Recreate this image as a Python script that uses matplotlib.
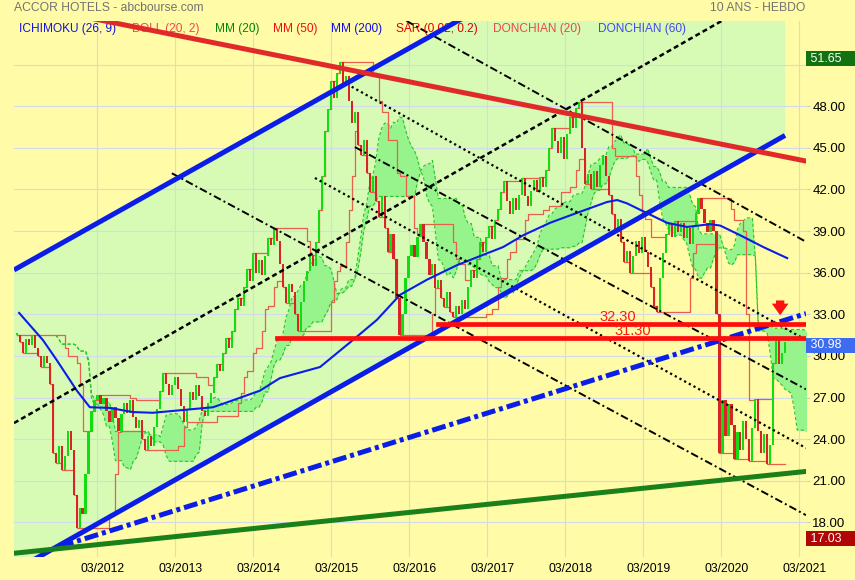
import numpy as np
import pandas as pd
import matplotlib
matplotlib.use("Agg")
import matplotlib.pyplot as plt
import matplotlib.dates as mdates
from matplotlib.patches import Polygon
from matplotlib.transforms import ScaledTranslation, blended_transform_factory

plt.rcParams["font.family"] = ["Liberation Sans", "DejaVu Sans"]

# ---- data (two-week bars, closes) ----
start_date = "2011-02-18"
close = [
    # 2011
    31.5, 31.0, 30.2, 31.2, 30.8, 31.5, 30.6, 30.0, 29.2, 30.0, 29.5, 28.0, 23.0,
    22.3, 23.5, 21.8, 22.8, 24.6, 23.2, 20.0, 17.6, 19.0, 18.6, 21.5, 24.5, 26.0, 26.8,
    # 2012
    27.2, 26.5, 27.0, 26.0, 25.2, 26.3, 25.5, 24.6, 25.8, 26.6, 25.9, 26.8, 25.6,
    24.8, 25.4, 24.0, 23.2, 24.2, 23.5, 24.9, 26.2, 27.5, 28.8, 28.0, 27.2, 27.9,
    # 2013
    28.5, 27.6, 26.4, 25.2, 26.2, 27.4, 26.8, 27.9, 27.1, 26.0, 25.7, 26.6, 27.3,
    28.5, 29.4, 28.9, 30.2, 31.3, 30.6, 31.8, 33.4, 34.2, 33.6, 35.0, 36.3, 35.4,
    # 2014
    37.4, 36.0, 36.9, 35.8, 37.2, 38.5, 38.0, 39.2, 38.3, 36.6, 35.0, 33.8, 35.2,
    34.6, 33.0, 31.8, 33.9, 35.4, 36.1, 37.3, 36.5, 38.2, 40.5, 43.0, 46.2, 47.8,
    # 2015
    49.8, 48.6, 50.4, 51.2, 49.5, 50.2, 48.4, 46.8, 47.6, 45.2, 44.5, 45.6, 43.2,
    41.8, 43.0, 41.2, 40.0, 41.5, 39.2, 37.5, 38.8, 37.0, 34.2, 31.5, 33.0, 35.6,
    # 2016
    37.2, 38.0, 37.1, 38.6, 39.5, 38.2, 37.0, 35.8, 36.6, 34.9, 35.5, 34.2, 33.5,
    34.6, 33.2, 32.8, 33.6, 33.0, 34.0, 33.4, 35.0, 36.2, 35.6, 37.0, 38.2, 37.5,
    # 2017
    38.6, 39.4, 38.4, 39.8, 40.6, 41.8, 42.6, 41.2, 40.2, 41.4, 40.5, 41.6, 42.8,
    41.5, 40.8, 41.9, 42.7, 41.8, 42.9, 42.2, 43.4, 45.0, 46.4, 45.5, 44.6, 45.8,
    # 2018
    44.2, 46.0, 47.2, 46.4, 47.9, 48.3, 45.0, 42.4, 43.1, 42.0, 43.3, 42.2, 43.8,
    44.4, 43.0, 41.6, 40.2, 39.0, 39.9, 38.2, 36.8, 37.6, 36.0, 37.2, 38.3, 37.4,
    # 2019
    38.6, 37.5, 36.4, 35.0, 33.6, 33.2, 35.6, 37.4, 38.8, 39.5, 38.6, 39.7, 38.9,
    39.6, 38.5, 39.2, 38.1, 39.4, 40.3, 41.4, 40.6, 39.6, 38.9, 39.8, 39.0, 33.0,
    # 2020
    23.0, 26.8, 24.2, 26.5, 25.0, 22.6, 24.5, 23.2, 25.3, 24.0, 22.4, 24.8, 26.9,
    24.6, 23.0, 24.4, 22.2, 23.6, 29.5, 31.2, 29.4, 30.2, 30.98,
]

# MM (200) blue line
ma_dates = ["2011-03-01", "2011-06-20", "2011-08-24", "2011-11-26", "2012-01-26",
            "2012-04-28", "2012-08-15", "2012-11-16", "2013-04-07", "2013-08-25",
            "2013-11-26", "2014-04-02", "2014-07-04", "2015-01-08", "2015-06-11",
            "2015-10-01", "2016-01-17", "2016-05-23", "2016-10-11", "2017-01-26",
            "2017-05-14", "2017-08-16", "2017-12-20", "2018-05-10", "2018-09-13",
            "2018-10-30", "2018-12-15", "2019-03-18", "2019-06-20", "2019-09-22",
            "2020-01-08", "2020-02-24", "2020-05-28", "2020-09-13", "2021-01-03"]
ma_vals = [33.1, 31.15, 29.7, 27.5, 26.3, 26.25, 25.95, 25.9, 26.1, 26.3,
           26.8, 27.5, 28.4, 29.2, 31.15, 32.6, 34.4, 35.5, 36.55, 37.2,
           37.85, 38.7, 39.6, 40.4, 41.1, 41.24, 41.0, 40.3, 39.6, 39.3,
           39.5, 39.4, 38.7, 37.85, 37.05]

# hand drawn trend lines: (start date, start price, end date, end price)
channel_up = ("2011-02-05", 36.2, "2020-12-24", 67.4)
channel_lo = ("2011-02-05", 14.5, "2020-12-24", 45.9)
red_trend = ("2011-02-05", 55.46, "2021-04-01", 44.05)
green_trend = ("2011-02-05", 15.77, "2021-04-01", 21.67)
blue_dashdot = ("2011-09-08", 16.26, "2021-04-01", 33.05)
black_dashdot = [("2013-02-13", 43.17, "2021-04-01", 18.52),
                 ("2015-06-20", 45.06, "2021-04-01", 27.59),
                 ("2016-02-17", 54.15, "2021-04-01", 38.23)]
black_dotted = [("2015-06-05", 49.41, "2021-04-01", 31.15),
                ("2014-12-15", 42.83, "2021-04-01", 23.36)]
black_dashed = [("2011-02-05", 25.16, "2020-03-04", 54.17)]
resist_levels = [32.30, 31.30]
resist_start = ["2016-07-15", "2014-06-19"]
resist_label_pos = ["2018-11-03", "2019-01-11"]

year_ticks = [f"{y}-03-01" for y in range(2012, 2022)]
year_labels = [f"03/{y}" for y in range(2012, 2022)]
price_ticks = [18, 21, 24, 27, 30, 33, 36, 39, 42, 45, 48, 51]

# ---- colours ----
BG = "#fffba6"
CHAN = "#d7fab5"
CLOUD = "#97f48d"
CLOUD_EDGE = "#26c626"
UPC = "#12dc12"
DNC = "#d82424"
DON = "#e8604c"
BLUE = "#0a1ee8"

fig = plt.figure(figsize=(8.55, 5.8), dpi=100, facecolor=BG)
ax = fig.add_axes([14 / 855, 23 / 580, 792 / 855, 536 / 580])
ax.set_facecolor(BG)
for s in ax.spines.values():
    s.set_visible(False)

d = lambda s: mdates.date2num(pd.Timestamp(s))

# regression channel background
poly = Polygon([(d(channel_up[0]), channel_up[1]), (d(channel_up[2]), channel_up[3]),
                (d(channel_lo[2]), channel_lo[3]), (d(channel_lo[0]), channel_lo[1])],
               closed=True, fc=CHAN, ec="none", zorder=0.2)
ax.add_patch(poly)

# candles
dates = pd.date_range(start_date, periods=len(close), freq="14D")
c = np.array(close)
o = np.r_[c[0], c[:-1]]
hi = pd.Series(np.maximum(o, c))
lo = pd.Series(np.minimum(o, c))

# ichimoku cloud
shift = 13
conv = (hi.rolling(5, min_periods=1).max() + lo.rolling(5, min_periods=1).min()) / 2
base = (hi.rolling(13, min_periods=1).max() + lo.rolling(13, min_periods=1).min()) / 2
span_a = ((conv + base) / 2).values
span_b = ((hi.rolling(26, min_periods=1).max() + lo.rolling(26, min_periods=1).min()) / 2).values
cloud_dates = pd.date_range(start_date, periods=len(close) + shift, freq="14D")[shift:]
ax.fill_between(cloud_dates, span_a, span_b, color=CLOUD, lw=0, zorder=2)
ax.plot(cloud_dates, span_a, color=CLOUD_EDGE, lw=0.8, ls=(0, (3, 2)), zorder=2.1)
ax.plot(cloud_dates, span_b, color=CLOUD_EDGE, lw=0.8, ls=(0, (3, 2)), zorder=2.1)

# donchian (20)
ax.plot(dates, hi.rolling(10, min_periods=1).max(), drawstyle="steps-post", color=DON, lw=0.9, zorder=2.5)
ax.plot(dates, lo.rolling(10, min_periods=1).min(), drawstyle="steps-post", color=DON, lw=0.9, zorder=2.5)

up = c >= o
h = np.maximum(np.abs(c - o), 0.12)
ax.bar(dates[up], h[up], bottom=lo[up], width=10, color=UPC, lw=0, zorder=3)
ax.bar(dates[~up], h[~up], bottom=lo[~up], width=10, color=DNC, lw=0, zorder=3)

# MM (200)
ax.plot(pd.to_datetime(ma_dates), ma_vals, color=BLUE, lw=1.5, zorder=4)


def seg(line, **kw):
    ax.plot(pd.to_datetime([line[0], line[2]]), [line[1], line[3]], **kw)


for ln in black_dashdot:
    seg(ln, color="black", lw=1.4, ls=(0, (4, 1.6, 1, 1.6)), zorder=5)
for ln in black_dotted:
    seg(ln, color="black", lw=1.6, ls=(0, (1, 1.4)), zorder=5)
for ln in black_dashed:
    seg(ln, color="black", lw=1.8, ls=(0, (2, 1.3)), zorder=5)

seg(channel_up, color=BLUE, lw=3.6, zorder=6, solid_capstyle="butt")
seg(channel_lo, color=BLUE, lw=3.6, zorder=6, solid_capstyle="butt")
seg(blue_dashdot, color=BLUE, lw=3.6, ls=(0, (2.8, 0.8, 0.8, 0.8)), zorder=6)
seg(red_trend, color="#e02a2a", lw=3.6, zorder=6)
seg(green_trend, color="#1a801a", lw=3.6, zorder=6)

for lvl, st, lp in zip(resist_levels, resist_start, resist_label_pos):
    ax.plot([pd.Timestamp(st), pd.Timestamp("2021-04-01")], [lvl, lvl], color="#ff0d0d", lw=3.4, zorder=7)
    ax.text(pd.Timestamp(lp), lvl + 0.47, f"{lvl:.2f}", color="#ff1a1a", fontsize=10.5,
            ha="center", va="center", zorder=8)

ax.annotate("", xy=(pd.Timestamp("2020-12-01"), 32.73), xytext=(pd.Timestamp("2020-12-01"), 34.2),
            arrowprops=dict(arrowstyle="simple,head_length=0.7,head_width=1.0,tail_width=0.5",
                            color="#ff1010", lw=0, mutation_scale=12), zorder=9)

# axes
ax.set_xlim(pd.Timestamp("2011-02-05"), pd.Timestamp("2021-04-01"))
ax.set_ylim(15.5, 54.15)
ax.set_xticks(pd.to_datetime(year_ticks))
ax.set_xticklabels(year_labels)
ax.yaxis.tick_right()
ax.set_yticks(price_ticks)
# the 51.00 label sits under the 51.65 box
ax.set_yticklabels([f"{p:.2f}" if p != 51 else "" for p in price_ticks])
ax.tick_params(axis="x", length=0, pad=4, labelsize=8.7)
ax.tick_params(axis="y", length=3, pad=1.5, labelsize=9.5, color="#c8cce0")
ax.set_axisbelow(True)
ax.grid(True, color="#d2daf0", lw=0.8)
off = ScaledTranslation(5 / 100, 0, fig.dpi_scale_trans)
for lab in ax.get_xticklabels():
    lab.set_transform(lab.get_transform() + off)

# value boxes on the right
trans = blended_transform_factory(ax.transAxes, ax.transData) + ScaledTranslation(0, -3 / 100, fig.dpi_scale_trans)
for val, col in [(51.65, "#127212"), (30.98, "#3c6cf0"), (17.03, "#b00606")]:
    ax.text(1.0015, val, f" {val:.2f}    ", transform=trans, color="white", fontsize=8.9,
            va="center", ha="left", clip_on=False, zorder=10,
            bbox=dict(boxstyle="square,pad=0.12", fc=col, ec="none"))

# title and legend
fig.text(14 / 855, 1 - 8 / 580, "ACCOR HOTELS - abcbourse.com", color="#737373", fontsize=8.7, va="center")
fig.text(805 / 855, 1 - 8 / 580, "10 ANS - HEBDO", color="#737373", fontsize=8.7, va="center", ha="right")
legend = [("ICHIMOKU (26, 9)", "#1414e0", 19), ("BOLL (20, 2)", "#f04848", 131.7),
          ("MM (20)", "#008a00", 215), ("MM (50)", "#ee1010", 273.3),
          ("MM (200)", "#1010ee", 331), ("SAR (0.02, 0.2)", "#dd0000", 396),
          ("DONCHIAN (20)", "#ec4848", 493.3), ("DONCHIAN (60)", "#4848ec", 597.7)]
for txt, col, xp in legend:
    ax.text(xp / 855, 1 - 29 / 580, txt, color=col, fontsize=8.6, va="center",
            transform=fig.transFigure, zorder=5.5)

fig.savefig("out.png", dpi=100, facecolor=BG)
